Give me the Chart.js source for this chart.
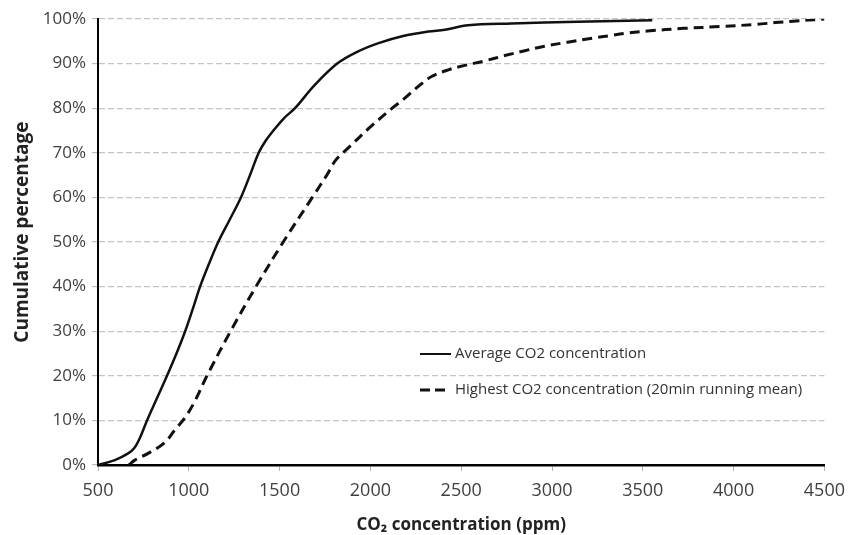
<!DOCTYPE html>
<html>
<head>
<meta charset="utf-8">
<script src="https://cdn.jsdelivr.net/npm/chart.js@4/dist/chart.umd.min.js"></script>
<style>
  html, body { margin: 0; padding: 0; background: #fff; }
  #wrap { width: 854px; height: 535px; }
</style>
</head>
<body>
<div id="wrap"><canvas id="c" width="854" height="535"></canvas></div>
<script>
// ---- Data ----
const seriesLabels = ['Average CO2 concentration', 'Highest CO2 concentration (20min running mean)'];

const avgX = [500, 593, 666, 700, 730, 770, 825, 880, 932, 980, 1022, 1062, 1110, 1162, 1225, 1287, 1337, 1385, 1425, 1470, 1525, 1585, 1689, 1817, 1930, 2045, 2180, 2319, 2410, 2538, 2776, 3141, 3552];
const avgY = [0, 1.1, 2.6, 3.8, 6, 10, 15, 20, 25, 30, 35, 40, 45, 50, 55, 60, 65, 70, 72.8, 75.2, 77.8, 80, 85, 90, 92.7, 94.6, 96.2, 97.2, 97.6, 98.6, 99.0, 99.4, 99.7];

const highX = [670, 703, 776, 867, 922, 977, 1032, 1100, 1230, 1370, 1520, 1680, 1760, 1810, 1881, 2000, 2120, 2191, 2264, 2337, 2429, 2520, 2629, 2740, 2850, 2959, 3086, 3223, 3324, 3424, 3525, 3726, 3926, 4127, 4228, 4328, 4500];
const highY = [0, 1.1, 2.6, 5, 7.8, 10.5, 14.2, 20, 30, 40, 50, 60, 65, 68.4, 71.2, 75.8, 80, 82.3, 84.9, 87.1, 88.6, 89.6, 90.6, 91.8, 92.9, 93.9, 94.8, 95.7, 96.3, 96.9, 97.3, 97.9, 98.3, 98.8, 99.2, 99.5, 100];

const xTicks = [500, 1000, 1500, 2000, 2500, 3000, 3500, 4000, 4500];
const yTicks = [0, 10, 20, 30, 40, 50, 60, 70, 80, 90, 100];

const xTitle = 'CO\u2082 concentration (ppm)';
const yTitle = '    Cumulative percentage';

const toPts = (xs, ys) => xs.map((x, i) => ({ x: x, y: ys[i] }));

const FONT = '"Open Sans", "DejaVu Sans", sans-serif';

// Legend drawn inside the plot area
const innerLegend = {
  id: 'innerLegend',
  afterDatasetsDraw(chart) {
    const ctx = chart.ctx;
    const ca = chart.chartArea;
    const x0 = ca.left + 322;
    const rows = [ca.top + 335, ca.top + 371];
    ctx.save();
    ctx.font = '15px ' + FONT;
    ctx.fillStyle = '#333';
    ctx.textBaseline = 'middle';
    ctx.textAlign = 'left';
    chart.data.datasets.forEach((ds, i) => {
      const y = rows[i];
      ctx.beginPath();
      ctx.strokeStyle = ds.borderColor;
      ctx.lineWidth = i === 0 ? 2 : 3;
      ctx.setLineDash(i === 0 ? [] : [10, 5]);
      ctx.moveTo(x0, y);
      ctx.lineTo(x0 + (i === 0 ? 31 : 26), y);
      ctx.stroke();
      ctx.setLineDash([]);
      ctx.fillText(ds.label, x0 + 35, y);
    });
    ctx.restore();
  }
};

new Chart(document.getElementById('c'), {
  type: 'scatter',
  data: {
    datasets: [
      {
        label: seriesLabels[0],
        data: toPts(avgX, avgY),
        showLine: true,
        borderColor: '#111',
        borderWidth: 2.5,
        pointRadius: 0,
        tension: 0.35,
        fill: false
      },
      {
        label: seriesLabels[1],
        data: toPts(highX, highY),
        showLine: true,
        borderColor: '#111',
        borderWidth: 3,
        borderDash: [10, 6],
        pointRadius: 0,
        tension: 0.35,
        fill: false
      }
    ]
  },
  options: {
    responsive: false,
    devicePixelRatio: 1,
    animation: false,
    layout: { padding: { top: 19, right: 26, bottom: 0, left: 0 } },
    plugins: {
      legend: { display: false },
      tooltip: { enabled: false }
    },
    scales: {
      x: {
        type: 'linear',
        min: 500,
        max: 4500,
        afterBuildTicks: (s) => { s.ticks = xTicks.map(v => ({ value: v })); },
        afterFit: (s) => { s.height = 70; },
        ticks: {
          font: { family: FONT, size: 18 },
          color: '#404040',
          padding: 9,
          maxRotation: 0,
          autoSkip: false,
          callback: (v) => String(v)
        },
        grid: {
          drawOnChartArea: false,
          drawTicks: true,
          tickLength: 6,
          tickColor: '#b0b0b0',
          tickWidth: 1
        },
        border: { display: true, color: '#000', width: 2.5 },
        title: {
          display: true,
          text: xTitle,
          font: { family: FONT, size: 17, weight: 'bold' },
          color: '#222',
          padding: { top: 5, bottom: 0 }
        }
      },
      y: {
        min: 0,
        max: 100,
        afterBuildTicks: (s) => { s.ticks = yTicks.map(v => ({ value: v })); },
        afterFit: (s) => { s.width = 98; },
        ticks: {
          font: { family: FONT, size: 17 },
          color: '#404040',
          padding: 6,
          callback: (v) => v + '%'
        },
        grid: {
          color: '#c4c4c4',
          lineWidth: 1.3,
          drawTicks: true,
          tickLength: 6,
          tickColor: '#b0b0b0',
          tickWidth: 1,
          tickBorderDash: []
        },
        border: { display: true, color: '#000', width: 2, dash: [6, 3] },
        title: {
          display: true,
          text: yTitle,
          font: { family: FONT, size: 19, weight: 'bold' },
          color: '#222',
          padding: { top: 11, bottom: 0 }
        }
      }
    }
  },
  plugins: [innerLegend]
});
</script>
</body>
</html>
